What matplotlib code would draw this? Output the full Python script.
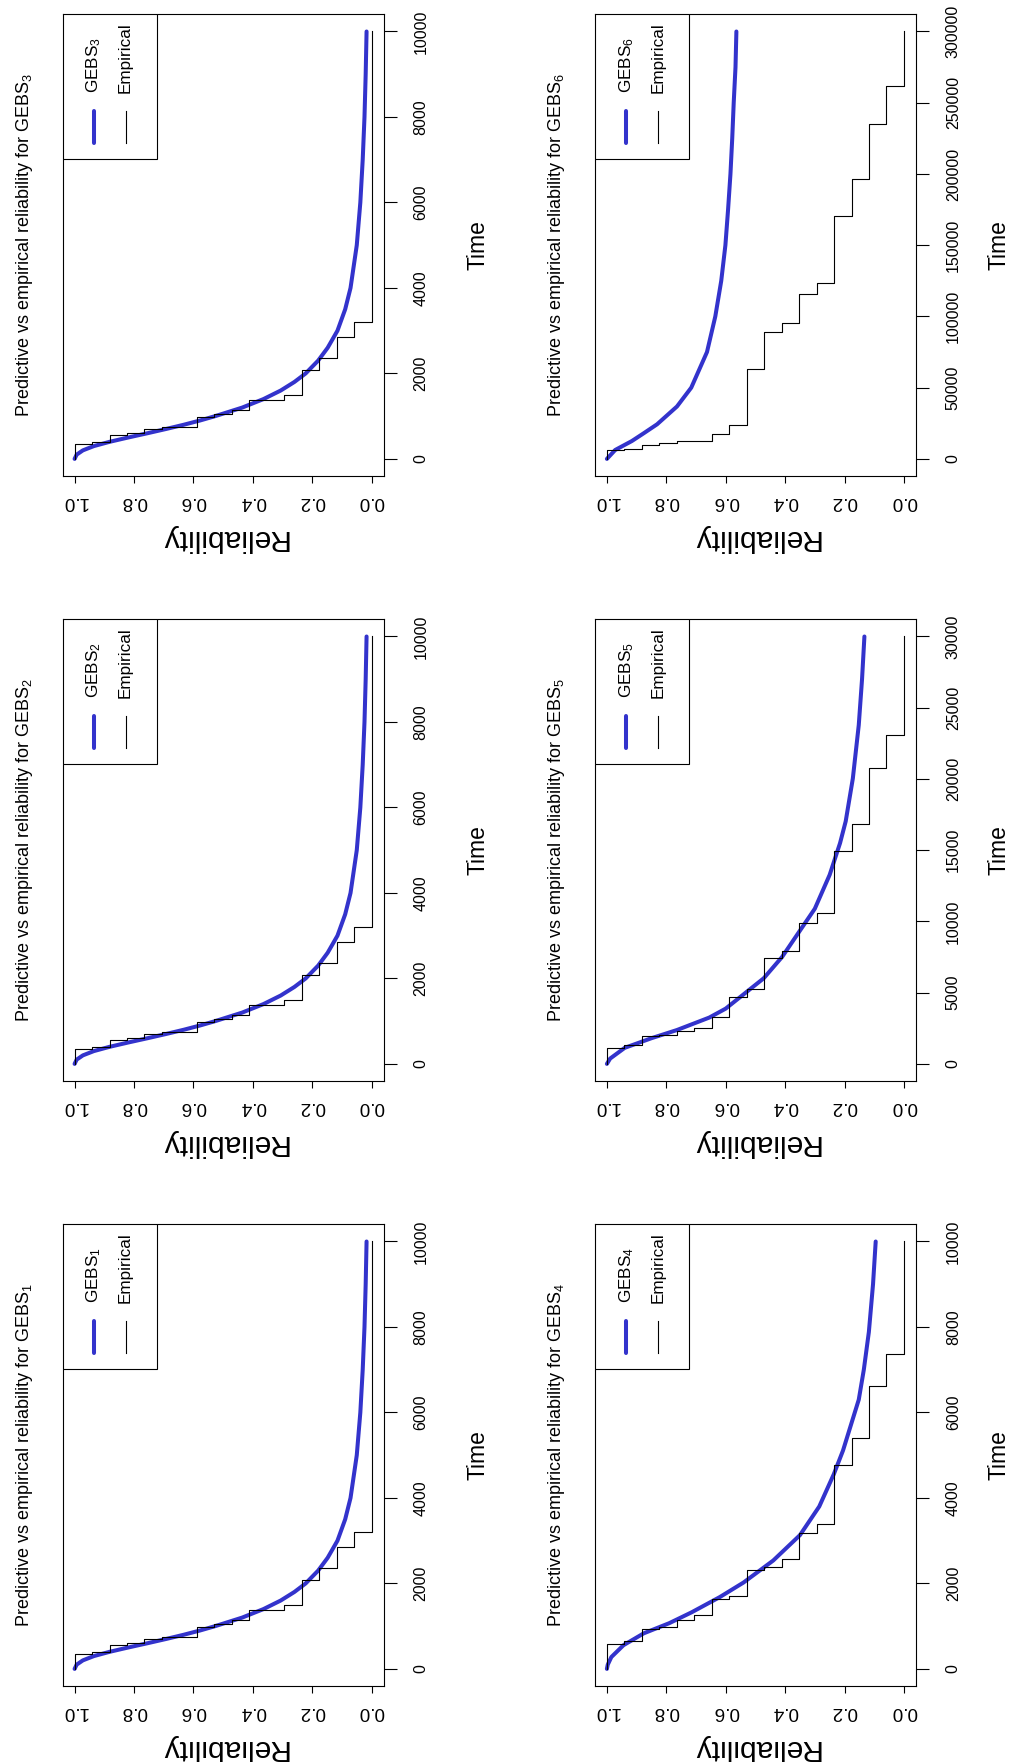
import matplotlib

matplotlib.use("Agg")
import matplotlib.pyplot as plt
import numpy as np
from matplotlib.patches import Rectangle

# --- data -------------------------------------------------------------------
# dataset used by GEBS1, GEBS2 and GEBS3 (the three panels look identical)
curve_a_time = [0, 100, 200, 300, 400, 500, 600, 700, 800, 900, 1000, 1200, 1400, 1600, 1800,
                2000, 2300, 2600, 3000, 3500, 4000, 5000, 6000, 7000, 8000, 9000, 10000]
curve_a_rel = [1.0, 0.993, 0.972, 0.935, 0.882, 0.82, 0.755, 0.692, 0.632, 0.577, 0.527, 0.436,
               0.364, 0.306, 0.26, 0.222, 0.18, 0.148, 0.115, 0.089, 0.071, 0.05, 0.038, 0.03,
               0.024, 0.02, 0.017]
emp_a_time = [0, 350, 405, 561, 607, 693, 748, 988, 1051, 1137, 1386, 1487, 2072, 2367, 2858, 3193, 10000]
emp_a_surv = [17, 16, 15, 14, 13, 12, 10, 9, 8, 7, 5, 4, 3, 2, 1, 0, 0]

# GEBS4
curve_b_time = [0, 100, 277, 555, 832, 1070, 1323, 1680, 2021, 2536, 3130, 3800, 4556, 5111, 6300,
                7000, 7884, 9000, 10000]
curve_b_rel = [1.0, 0.997, 0.985, 0.944, 0.876, 0.79, 0.715, 0.62, 0.54, 0.44, 0.35, 0.285, 0.236,
               0.205, 0.152, 0.135, 0.118, 0.104, 0.095]
emp_b_time = [0, 578, 658, 927, 990, 1149, 1268, 1624, 1704, 2314, 2393, 2575, 3185, 3384, 4778,
              5412, 6616, 7361, 10000]
emp_b_surv = [17, 16, 15, 14, 13, 12, 11, 10, 9, 8, 7, 6, 5, 4, 3, 2, 1, 0, 0]

# GEBS5
curve_c_time = [0, 376, 1127, 1803, 2379, 3255, 3881, 6010, 7512, 9265, 10892, 13271, 15500,
                17027, 20032, 23788, 27000, 30000]
curve_c_rel = [1.0, 0.989, 0.94, 0.85, 0.764, 0.655, 0.60, 0.472, 0.410, 0.353, 0.300, 0.250, 0.215,
               0.196, 0.172, 0.152, 0.141, 0.133]
emp_c_time = [0, 1127, 1302, 1928, 2053, 2304, 2554, 3305, 4708, 5258, 7437, 7938, 9891, 10567,
              14974, 16852, 20783, 23087, 30000]
emp_c_surv = [17, 16, 15, 14, 13, 12, 11, 10, 9, 8, 7, 6, 5, 4, 3, 2, 1, 0, 0]

# GEBS6
curve_d_time = [0, 6265, 12530, 18000, 24300, 36800, 50000, 75000, 100000, 125000, 150000,
                175000, 200000, 225000, 250000, 275000, 300000]
curve_d_rel = [1.0, 0.972, 0.916, 0.876, 0.831, 0.764, 0.716, 0.663, 0.635, 0.615, 0.601, 0.592,
               0.584, 0.578, 0.573, 0.567, 0.564]
emp_d_time = [0, 6265, 7268, 9773, 11026, 12530, 17291, 23556, 63151, 88963, 95729, 115777,
              123295, 170157, 196721, 235313, 261877, 300000]
emp_d_surv = [17, 16, 15, 14, 13, 11, 10, 9, 8, 7, 6, 5, 4, 3, 2, 1, 0, 0]

n_units = 17
rel_ticks = [0.0, 0.2, 0.4, 0.6, 0.8, 1.0]
time_ticks_10k = [0, 2000, 4000, 6000, 8000, 10000]
time_ticks_30k = [0, 5000, 10000, 15000, 20000, 25000, 30000]
time_ticks_300k = [0, 50000, 100000, 150000, 200000, 250000, 300000]

# --- layout (pixels of the 1018 x 1762 page) --------------------------------
# the page is the R figure turned a quarter turn: time runs up, reliability runs right-to-left
FIG_W, FIG_H = 1018, 1762
COL_LEFT = (62.7, 595.0)
TIME_LABEL_X = (1.295, 1.26)  # right column sits close to the page edge
ROW_TOP = (14.4, 619.4, 1224.4)
BOX_W, BOX_H = 320.8, 461.6
BLUE = "#3333cc"

plt.rcParams["font.family"] = ["Liberation Sans", "DejaVu Sans"]
plt.rcParams["mathtext.default"] = "regular"


def draw_panel(ax, curve_time, curve_rel, emp_time, emp_surv, time_ticks, index, time_label_x):
    t_max = max(time_ticks)
    emp_rel = np.asarray(emp_surv, dtype=float) / n_units
    ax.plot(curve_rel, curve_time, color=BLUE, lw=2.9, solid_capstyle="round", zorder=2)
    ax.plot(emp_rel, emp_time, color="black", lw=0.8, drawstyle="steps-pre", zorder=3)
    ax.set_xlim(1.04, -0.04)
    ax.set_ylim(-0.04 * t_max, 1.04 * t_max)

    for spine in ax.spines.values():
        spine.set_linewidth(0.8)
        spine.set_color("black")

    ax.set_xticks(rel_ticks, [f"{v:.1f}" for v in rel_ticks], rotation=180,
                  ha="center", va="top", fontsize=13.6)
    ax.tick_params(axis="x", direction="out", length=5, width=0.8, pad=7)

    ax.yaxis.tick_right()
    ax.set_yticks(time_ticks, [str(t) for t in time_ticks], rotation=90, ha="left",
                  va="center", fontsize=11.5)
    ax.tick_params(axis="y", direction="out", length=9.6, width=0.8, pad=12,
                   left=False, right=True)

    ax.set_xlabel("Reliability", fontsize=21.6, rotation=180)
    ax.xaxis.set_label_coords(0.5, -0.134)
    ax.xaxis.label.set_va("center")
    ax.yaxis.set_label_position("right")
    ax.set_ylabel("Time", fontsize=16.5, rotation=90)
    ax.yaxis.set_label_coords(time_label_x, 0.5)
    ax.yaxis.label.set_va("center")
    ax.yaxis.label.set_ha("center")

    ax.text(-0.1206, 0.5, f"Predictive vs empirical reliability for GEBS$_{index}$",
            transform=ax.transAxes, rotation=90, ha="center", va="center", fontsize=13)

    # legend box in the top-left corner (the rotated R legend)
    leg_w, leg_h = 94 / BOX_W, 145 / BOX_H
    ax.add_patch(Rectangle((0, 1 - leg_h), leg_w, leg_h, transform=ax.transAxes,
                           facecolor="white", edgecolor="black", lw=0.8, zorder=4))
    ax.plot([0.0976, 0.0976], [0.722, 0.791], transform=ax.transAxes, color=BLUE, lw=2.9,
            solid_capstyle="round", zorder=5)
    ax.plot([0.196, 0.196], [0.722, 0.791], transform=ax.transAxes, color="black", lw=0.8,
            zorder=5)
    ax.text(0.0976, 0.830, f"GEBS$_{index}$", transform=ax.transAxes, rotation=90,
            rotation_mode="anchor", ha="left", va="center", fontsize=12.3, zorder=6)
    ax.text(0.196, 0.830, "Empirical", transform=ax.transAxes, rotation=90,
            rotation_mode="anchor", ha="left", va="center", fontsize=12.3, zorder=6)


panels = [
    # (column, row, curve time, curve rel, emp time, emp surv, ticks, index)
    (0, 2, curve_a_time, curve_a_rel, emp_a_time, emp_a_surv, time_ticks_10k, 1),
    (0, 1, curve_a_time, curve_a_rel, emp_a_time, emp_a_surv, time_ticks_10k, 2),
    (0, 0, curve_a_time, curve_a_rel, emp_a_time, emp_a_surv, time_ticks_10k, 3),
    (1, 2, curve_b_time, curve_b_rel, emp_b_time, emp_b_surv, time_ticks_10k, 4),
    (1, 1, curve_c_time, curve_c_rel, emp_c_time, emp_c_surv, time_ticks_30k, 5),
    (1, 0, curve_d_time, curve_d_rel, emp_d_time, emp_d_surv, time_ticks_300k, 6),
]

fig = plt.figure(figsize=(FIG_W / 100, FIG_H / 100), dpi=100)
for col, row, ct, cr, et, es, ticks, idx in panels:
    left = COL_LEFT[col] / FIG_W
    bottom = 1 - (ROW_TOP[row] + BOX_H) / FIG_H
    ax = fig.add_axes([left, bottom, BOX_W / FIG_W, BOX_H / FIG_H])
    draw_panel(ax, ct, cr, et, es, ticks, idx, TIME_LABEL_X[col])

fig.savefig("out.png", dpi=100)
plt.close(fig)
